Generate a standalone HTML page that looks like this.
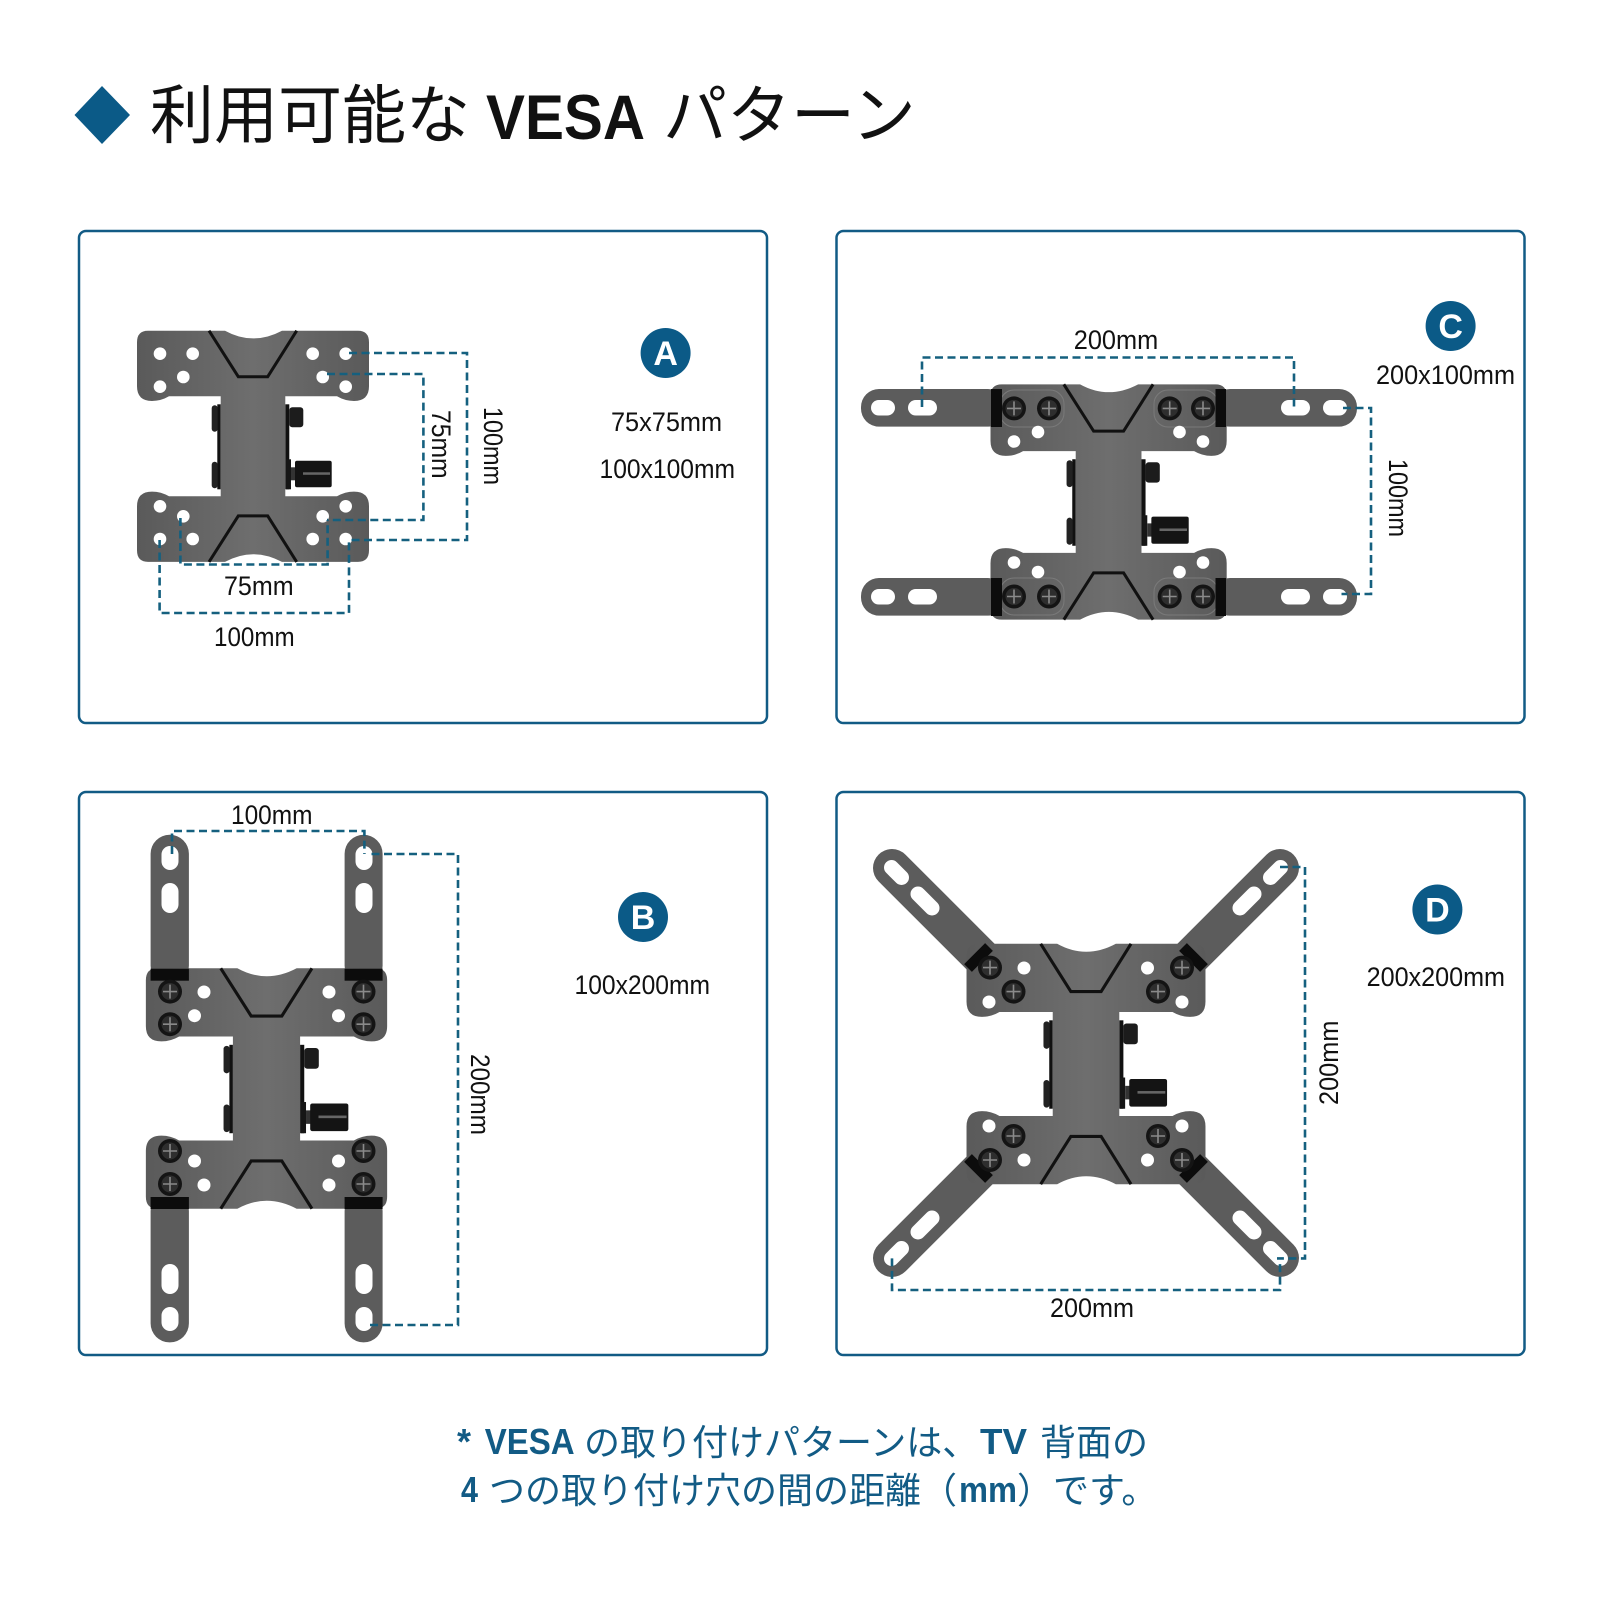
<!DOCTYPE html>
<html lang="ja">
<head>
<meta charset="utf-8">
<title>利用可能な VESA パターン</title>
<style>
html,body{margin:0;padding:0;background:#fff;width:1600px;height:1600px;overflow:hidden}
svg{display:block}
.t{font-family:"Liberation Sans","Noto Sans CJK JP",sans-serif;font-size:27px;fill:#111}
.b{font-family:"Liberation Sans",sans-serif;font-weight:700;font-size:34px;fill:#fff;text-anchor:middle}
.j{font-family:"Liberation Sans","Noto Sans CJK JP",sans-serif}
.d{fill:none;stroke:#15607f;stroke-width:2.6;stroke-dasharray:8 4.5}
.p{fill:#fff;stroke:#125b85;stroke-width:2.5}
</style>
</head>
<body>
<svg width="1600" height="1600" viewBox="0 0 1600 1600" xmlns="http://www.w3.org/2000/svg">
<defs>
<linearGradient id="g" x1="0" x2="1" y1="0" y2="0">
<stop offset="0" stop-color="#5a5a5a"/><stop offset=".5" stop-color="#6e6e6e"/><stop offset="1" stop-color="#5a5a5a"/>
</linearGradient>
<g id="core">
<rect x="-35.7" y="-42" width="3.4" height="85" fill="#111"/>
<rect x="-41.3" y="-41" width="6" height="26.4" rx="3" fill="#222"/>
<rect x="-41.3" y="15.4" width="6" height="26.6" rx="3" fill="#222"/>
<rect x="32.3" y="-42" width="4" height="85" fill="#111"/>
<rect x="36.3" y="-39" width="14" height="20" rx="3" fill="#1c1c1c"/>
<rect x="33" y="13" width="5" height="30" fill="#161616"/>
<rect x="38" y="21" width="5" height="13" fill="#333"/>
<rect x="42" y="14.4" width="36.7" height="26.6" rx="2" fill="#141414"/>
<rect x="50" y="26" width="27" height="2.5" fill="#666"/>
<path fill="url(#g)" d="M-105,-115.6 L-28,-115.6 Q0,-100.2 29,-115.6 L105,-115.6 Q116,-115.6 116,-104 L116,-60 Q116,-45.3 101,-45.3 Q92,-45.3 84,-50 L32.3,-50 L32.3,50 L84,50 Q92,45.3 101,45.3 Q116,45.3 116,60 L116,104 Q116,115.6 105,115.6 L29,115.6 Q0,100.2 -28,115.6 L-105,115.6 Q-116,115.6 -116,104 L-116,60 Q-116,45.3 -101,45.3 Q-92,45.3 -84,50 L-32.3,50 L-32.3,-50 L-84,-50 Q-92,-45.3 -101,-45.3 Q-116,-45.3 -116,-60 L-116,-104 Q-116,-115.6 -105,-115.6 Z"/>
<path d="M-44,-115.6 L-14.7,-69.6 L14.7,-69.6 L43.7,-115.6" fill="none" stroke="#111" stroke-width="3"/>
<path d="M-44,115.6 L-14.7,69.6 L14.7,69.6 L43.7,115.6" fill="none" stroke="#111" stroke-width="3"/>
</g>
<g id="s">
<circle r="12" fill="#141414"/>
<circle r="8.5" fill="#2e2e2e"/>
<path d="M-7,0H7M0,-7V7" stroke="#8a8a8a" stroke-width="1.6"/>
</g>
</defs>

<rect width="1600" height="1600" fill="#fff"/>

<!-- title -->
<polygon points="74.5,115 102,86 130,115 102,144" fill="#0b5a87"/>
<text class="j" x="150" y="138" font-size="64" fill="#111">利用可能な</text>
<text x="486" y="139" font-family="Liberation Sans,sans-serif" font-weight="700" font-size="63" fill="#111" textLength="159" lengthAdjust="spacingAndGlyphs">VESA</text>
<text class="j" x="663" y="138" font-size="64" fill="#111">パターン</text>

<!-- panels -->
<rect class="p" x="79" y="231" width="688" height="492" rx="7"/>
<rect class="p" x="836.5" y="231" width="688" height="492" rx="7"/>
<rect class="p" x="79" y="792" width="688" height="563" rx="7"/>
<rect class="p" x="836.5" y="792" width="688" height="563" rx="7"/>

<!-- A -->
<use href="#core" transform="translate(253,446.3)"/>
<g fill="#fff">
<circle cx="160" cy="353.7" r="6.3"/><circle cx="192.7" cy="353.7" r="6.3"/><circle cx="312.7" cy="353.7" r="6.3"/><circle cx="345.7" cy="353.7" r="6.3"/>
<circle cx="183.3" cy="377" r="6.3"/><circle cx="322.7" cy="377" r="6.3"/><circle cx="160" cy="386.7" r="6.3"/><circle cx="345.7" cy="386.7" r="6.3"/>
<circle cx="160" cy="506.3" r="6.3"/><circle cx="345.7" cy="506.3" r="6.3"/><circle cx="183.3" cy="516.3" r="6.3"/><circle cx="322.7" cy="516.3" r="6.3"/>
<circle cx="160" cy="539" r="6.3"/><circle cx="192.7" cy="539" r="6.3"/><circle cx="312.7" cy="539" r="6.3"/><circle cx="345.7" cy="539" r="6.3"/>
</g>
<path class="d" d="M349,353H467V540H351"/>
<path class="d" d="M327,374H423.4V520H327"/>
<path class="d" d="M180.4,518V564.5H327.6V520"/>
<path class="d" d="M159.6,540V613H349V540"/>
<circle cx="665.6" cy="353" r="25" fill="#0b5a87"/>
<text class="b" x="665.6" y="365">A</text>
<text class="t" x="611" y="431" textLength="111" lengthAdjust="spacingAndGlyphs">75x75mm</text>
<text class="t" x="599.5" y="478" textLength="135.5" lengthAdjust="spacingAndGlyphs">100x100mm</text>
<text class="t" x="224" y="595" textLength="69.6" lengthAdjust="spacingAndGlyphs">75mm</text>
<text class="t" x="214" y="646" textLength="80.6" lengthAdjust="spacingAndGlyphs">100mm</text>
<text class="t" transform="translate(432,410) rotate(90)" textLength="68.6" lengthAdjust="spacingAndGlyphs">75mm</text>
<text class="t" transform="translate(484,407) rotate(90)" textLength="78" lengthAdjust="spacingAndGlyphs">100mm</text>

<!-- C -->
<g fill="#5c5c5c">
<rect x="861" y="389" width="145" height="37.6" rx="18"/>
<rect x="1212" y="389" width="145" height="37.6" rx="18"/>
<rect x="861" y="578" width="145" height="37.6" rx="18"/>
<rect x="1212" y="578" width="145" height="37.6" rx="18"/>
</g>
<use href="#core" transform="translate(1108.6,502) scale(1.018)"/>
<g fill="none" stroke="#7a7a7a" stroke-width="1">
<rect x="1000" y="390" width="64" height="37" rx="14"/>
<rect x="1154" y="390" width="64" height="37" rx="14"/>
<rect x="1000" y="578" width="64" height="37" rx="14"/>
<rect x="1154" y="578" width="64" height="37" rx="14"/>
</g>
<g fill="#0c0c0c">
<rect x="991" y="389" width="11" height="38"/><rect x="1215.5" y="389" width="10.5" height="38"/>
<rect x="991" y="578" width="11" height="38"/><rect x="1215.5" y="578" width="10.5" height="38"/>
</g>
<g fill="#fff">
<rect x="871" y="400" width="24" height="15.5" rx="7.7"/><rect x="908" y="400" width="29" height="15.5" rx="7.7"/>
<rect x="1281" y="400" width="29" height="15.5" rx="7.7"/><rect x="1323" y="400" width="24" height="15.5" rx="7.7"/>
<rect x="871" y="589" width="24" height="15.5" rx="7.7"/><rect x="908" y="589" width="29" height="15.5" rx="7.7"/>
<rect x="1281" y="589" width="29" height="15.5" rx="7.7"/><rect x="1323" y="589" width="24" height="15.5" rx="7.7"/>
<circle cx="1014" cy="441.5" r="6.3"/><circle cx="1038" cy="432" r="6.3"/><circle cx="1179.5" cy="432" r="6.3"/><circle cx="1203" cy="441.5" r="6.3"/>
<circle cx="1014" cy="562.5" r="6.3"/><circle cx="1038" cy="572" r="6.3"/><circle cx="1179.5" cy="572" r="6.3"/><circle cx="1203" cy="562.5" r="6.3"/>
</g>
<use href="#s" x="1014" y="408.4"/><use href="#s" x="1049" y="408.4"/><use href="#s" x="1169.7" y="408.4"/><use href="#s" x="1203" y="408.4"/>
<use href="#s" x="1014" y="596.5"/><use href="#s" x="1049" y="596.5"/><use href="#s" x="1169.7" y="596.5"/><use href="#s" x="1203" y="596.5"/>
<path class="d" d="M922,407V357.5H1294V407"/>
<path class="d" d="M1343,408H1371V594H1341.5"/>
<circle cx="1450.6" cy="326" r="25" fill="#0b5a87"/>
<text class="b" x="1450.6" y="338">C</text>
<text class="t" x="1116" y="349" text-anchor="middle" textLength="84.5" lengthAdjust="spacingAndGlyphs">200mm</text>
<text class="t" x="1376" y="384" textLength="139" lengthAdjust="spacingAndGlyphs">200x100mm</text>
<text class="t" transform="translate(1389,459) rotate(90)" textLength="78" lengthAdjust="spacingAndGlyphs">100mm</text>

<!-- B -->
<g fill="#5c5c5c">
<rect x="150.6" y="834.8" width="38.3" height="150" rx="19"/>
<rect x="344.6" y="834.8" width="38" height="150" rx="19"/>
<rect x="150.6" y="1192" width="38.3" height="150.4" rx="19"/>
<rect x="344.6" y="1192" width="38" height="150.4" rx="19"/>
</g>
<use href="#core" transform="translate(266.5,1088.5) scale(1.04)"/>
<g fill="#0c0c0c">
<rect x="150.6" y="968.7" width="38.3" height="12"/><rect x="344.6" y="968.7" width="38" height="12"/>
<rect x="150.6" y="1197" width="38.3" height="12"/><rect x="344.6" y="1197" width="38" height="12"/>
</g>
<g fill="#fff">
<rect x="161.5" y="846" width="17" height="24" rx="8.5"/><rect x="161.5" y="883" width="17" height="30" rx="8.5"/>
<rect x="355.5" y="846" width="17" height="24" rx="8.5"/><rect x="355.5" y="883" width="17" height="30" rx="8.5"/>
<rect x="161.5" y="1264" width="17" height="30" rx="8.5"/><rect x="161.5" y="1307" width="17" height="24" rx="8.5"/>
<rect x="355.5" y="1264" width="17" height="30" rx="8.5"/><rect x="355.5" y="1307" width="17" height="24" rx="8.5"/>
<circle cx="204" cy="992" r="6.5"/><circle cx="194.5" cy="1015.7" r="6.5"/><circle cx="329" cy="992" r="6.5"/><circle cx="338.5" cy="1015.7" r="6.5"/>
<circle cx="194.5" cy="1161" r="6.5"/><circle cx="204" cy="1185" r="6.5"/><circle cx="338.5" cy="1161" r="6.5"/><circle cx="329" cy="1185" r="6.5"/>
</g>
<use href="#s" x="170" y="991.6"/><use href="#s" x="170" y="1024.2"/><use href="#s" x="363.5" y="991.6"/><use href="#s" x="363.5" y="1024.2"/>
<use href="#s" x="170" y="1151"/><use href="#s" x="170" y="1184"/><use href="#s" x="363.5" y="1151"/><use href="#s" x="363.5" y="1184"/>
<path class="d" d="M172,854V831H364.4V854"/>
<path class="d" d="M371.5,854H458V1325H369"/>
<circle cx="643" cy="917" r="25" fill="#0b5a87"/>
<text class="b" x="643" y="929">B</text>
<text class="t" x="231" y="824" textLength="81.5" lengthAdjust="spacingAndGlyphs">100mm</text>
<text class="t" x="574.5" y="994" textLength="135.5" lengthAdjust="spacingAndGlyphs">100x200mm</text>
<text class="t" transform="translate(471,1054) rotate(90)" textLength="81" lengthAdjust="spacingAndGlyphs">200mm</text>

<!-- D -->
<g fill="none" stroke="#5c5c5c" stroke-width="38" stroke-linecap="round">
<path d="M892,868L985,961"/><path d="M1280,868L1187,961"/>
<path d="M892,1258L985,1165"/><path d="M1280,1258L1187,1165"/>
</g>
<use href="#core" transform="translate(1086,1064) scale(1.03,1.04)"/>
<g stroke="#0c0c0c" stroke-width="11" fill="none">
<path d="M989,947L968,968"/><path d="M1183,947L1204,968"/>
<path d="M989,1179L968,1158"/><path d="M1183,1179L1204,1158"/>
</g>
<g fill="#fff">
<g fill="none" stroke="#fff" stroke-width="15" stroke-linecap="round">
<path d="M891.5,867.5L901.5,877.5"/><path d="M918,894L932,908"/>
<path d="M1280.5,867.5L1270.5,877.5"/><path d="M1254,894L1240,908"/>
<path d="M891.5,1258.5L901.5,1248.5"/><path d="M918,1232L932,1218"/>
<path d="M1280.5,1258.5L1270.5,1248.5"/><path d="M1254,1232L1240,1218"/>
</g>
<circle cx="1024" cy="968" r="6.5"/><circle cx="989" cy="1002" r="6.5"/><circle cx="1147.5" cy="968" r="6.5"/><circle cx="1182" cy="1002" r="6.5"/>
<circle cx="989" cy="1126" r="6.5"/><circle cx="1024" cy="1160" r="6.5"/><circle cx="1182" cy="1126" r="6.5"/><circle cx="1147.5" cy="1160" r="6.5"/>
</g>
<use href="#s" x="990" y="967.6"/><use href="#s" x="1013.5" y="991.6"/><use href="#s" x="1182" y="967.6"/><use href="#s" x="1158" y="991.6"/>
<use href="#s" x="990" y="1160"/><use href="#s" x="1013.5" y="1136"/><use href="#s" x="1182" y="1160"/><use href="#s" x="1158" y="1136"/>
<path class="d" d="M1280,867H1305V1258.4H1277"/>
<path class="d" d="M892,1258.4V1290H1280V1264"/>
<circle cx="1437.4" cy="909.5" r="25" fill="#0b5a87"/>
<text class="b" x="1437.4" y="921.5">D</text>
<text class="t" x="1050" y="1317" textLength="84" lengthAdjust="spacingAndGlyphs">200mm</text>
<text class="t" x="1366.6" y="986" textLength="138.4" lengthAdjust="spacingAndGlyphs">200x200mm</text>
<text class="t" transform="translate(1338,1105) rotate(-90)" textLength="84.5" lengthAdjust="spacingAndGlyphs">200mm</text>

<!-- footnote -->
<g fill="#125b85">
<text x="457" y="1454" font-family="Liberation Sans,sans-serif" font-weight="700" font-size="36">*</text>
<text x="484.7" y="1454" font-family="Liberation Sans,sans-serif" font-weight="700" font-size="36" textLength="90" lengthAdjust="spacingAndGlyphs">VESA</text>
<text class="j" x="584" y="1455" font-size="36">の取り付けパターンは、</text>
<text x="980" y="1454" font-family="Liberation Sans,sans-serif" font-weight="700" font-size="36" textLength="47" lengthAdjust="spacingAndGlyphs">TV</text>
<text class="j" x="1040" y="1455" font-size="36">背面の</text>
<text x="461" y="1502" font-family="Liberation Sans,sans-serif" font-weight="700" font-size="36" textLength="17" lengthAdjust="spacingAndGlyphs">4</text>
<text class="j" x="489" y="1503" font-size="36">つの取り付け穴の間の距離（</text>
<text x="959" y="1502" font-family="Liberation Sans,sans-serif" font-weight="700" font-size="36" textLength="58" lengthAdjust="spacingAndGlyphs">mm</text>
<text class="j" x="1017" y="1503" font-size="36">）です。</text>
</g>
</svg>
</body>
</html>
